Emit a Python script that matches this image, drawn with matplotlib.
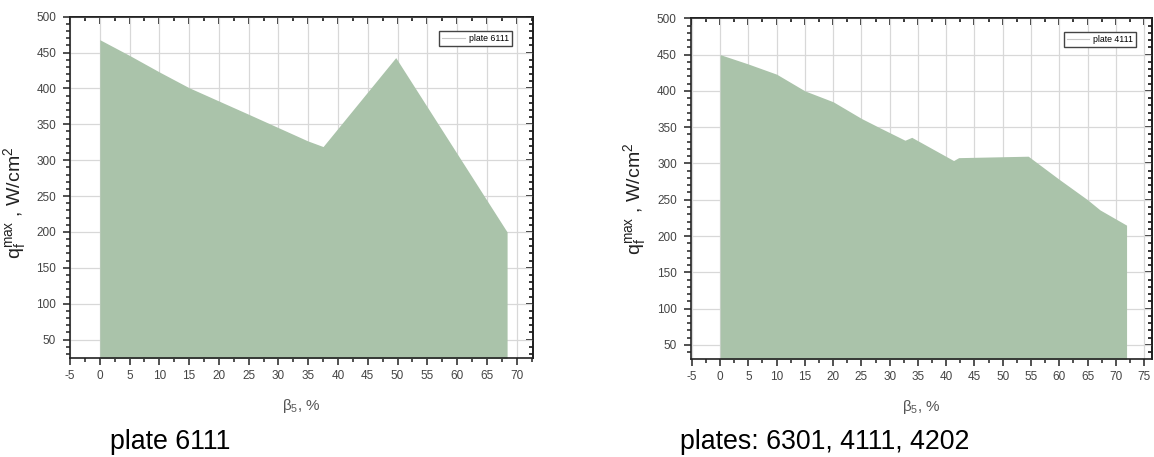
import matplotlib
matplotlib.use("Agg")
import matplotlib.pyplot as plt
from matplotlib.lines import Line2D
from matplotlib.ticker import MultipleLocator

plt.rcParams["font.family"] = ["Liberation Sans", "DejaVu Sans"]
plt.rcParams["mathtext.default"] = "regular"
plt.rcParams["axes.unicode_minus"] = False

# q_f^max vs beta_5, plate 6111
beta_6111 = [0, 5, 10, 15, 25, 34.9, 37.5, 49.7, 68.4]
q_6111 = [468, 446, 423, 401, 364, 327, 319, 443, 200]

# q_f^max vs beta_5, plate 4111
beta_4111 = [0, 5, 10, 15, 20, 25, 28.3, 32.7, 33.9, 41.3, 42.2, 54.5, 60, 65, 67.2, 71.9]
q_4111 = [450, 437, 423, 400, 385, 362, 349, 332, 336, 304, 308, 310, 278, 250, 236, 215]

FILL = "#aac3aa"
GRID = "#d8d8d8"
TICK_TXT = "#444444"


def style_axes(ax, xlim, ylim):
    ax.set_xlim(*xlim)
    ax.set_ylim(*ylim)
    ax.xaxis.set_major_locator(MultipleLocator(5))
    ax.xaxis.set_minor_locator(MultipleLocator(2.5))
    ax.yaxis.set_major_locator(MultipleLocator(50))
    ax.yaxis.set_minor_locator(MultipleLocator(10))
    ax.set_yticks(range(50, 501, 50))
    ax.grid(True, which="major", color=GRID, linewidth=0.9)
    ax.set_axisbelow(True)
    for s in ax.spines.values():
        s.set_linewidth(1.2)
        s.set_color("#222222")
    ax.tick_params(which="both", direction="out", width=1.1, colors="#222222",
                   labelcolor=TICK_TXT, labelsize=8.5)
    ax.tick_params(which="major", length=5)
    ax.tick_params(which="minor", length=3)
    ax.tick_params(axis="x", pad=4)
    ax.tick_params(axis="y", pad=5)

    # inward ticks on top and right, no labels
    top = ax.secondary_xaxis("top")
    top.xaxis.set_major_locator(MultipleLocator(5))
    top.xaxis.set_minor_locator(MultipleLocator(2.5))
    top.tick_params(which="both", direction="in", width=1.1, labeltop=False)
    top.tick_params(which="major", length=5)
    top.tick_params(which="minor", length=3)
    top.spines["top"].set_linewidth(1.2)
    right = ax.secondary_yaxis("right")
    right.yaxis.set_major_locator(MultipleLocator(50))
    right.yaxis.set_minor_locator(MultipleLocator(10))
    right.tick_params(which="both", direction="in", width=1.1, labelright=False)
    right.tick_params(which="major", length=5)
    right.tick_params(which="minor", length=3)
    right.spines["right"].set_linewidth(1.2)

    ax.set_xlabel(r"$\beta_5$, %", fontsize=11, color="#555555")
    ax.set_ylabel(r"$q_f^{max}$ , W/cm$^2$", fontsize=14, color="#222222")


def add_legend(ax, label, anchor):
    h = Line2D([0], [0], color="#c8c8c8", linewidth=0.8)
    leg = ax.legend([h], [label], loc="upper right", bbox_to_anchor=anchor,
                    borderaxespad=0, fontsize=6.3, handlelength=2.6,
                    handletextpad=0.4, borderpad=0.35, fancybox=False,
                    framealpha=1, edgecolor="#444444")
    leg.get_frame().set_linewidth(1.0)


fig = plt.figure(figsize=(11.54, 4.57), dpi=100)

ax1 = fig.add_axes([70 / 1154, (457 - 357.5) / 457, 462.7 / 1154, 340.8 / 457])
ax1.fill_between(beta_6111, q_6111, 0, color=FILL, linewidth=0, zorder=2)
style_axes(ax1, (-5, 72.7), (25, 500))
ax1.yaxis.set_label_coords(-0.091, 0.455)
ax1.xaxis.set_label_coords(0.5, -0.115)
add_legend(ax1, "plate 6111", (1 - 21 / 462.7, 1 - 14 / 340.8))

ax2 = fig.add_axes([690.7 / 1154, (457 - 358.7) / 457, 461.3 / 1154, 340.4 / 457])
ax2.fill_between(beta_4111, q_4111, 0, color=FILL, linewidth=0, zorder=2)
style_axes(ax2, (-5.2, 76.4), (31, 500))
ax2.yaxis.set_label_coords(-0.093, 0.47)
ax2.xaxis.set_label_coords(0.5, -0.115)
add_legend(ax2, "plate 4111", (1 - 16 / 461.3, 1 - 13.4 / 340.4))

fig.text(170 / 1154, (457 - 442) / 457, "plate 6111", fontsize=19.3,
         ha="center", va="center")
fig.text(825 / 1154, (457 - 442) / 457, "plates: 6301, 4111, 4202",
         fontsize=19.3, ha="center", va="center")

fig.savefig("out.png", dpi=100)
